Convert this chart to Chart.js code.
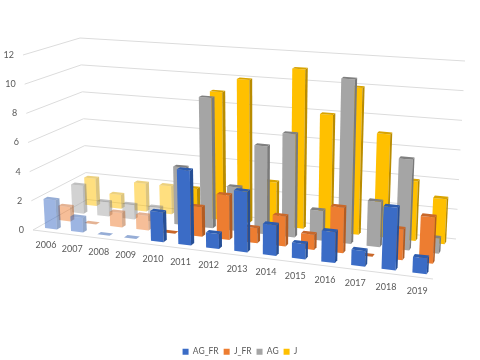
<!DOCTYPE html>
<html>
<head>
<meta charset="utf-8">
<style>
  html, body { margin: 0; padding: 0; background: #fff; }
  canvas { display: block; }
</style>
<script src="https://cdn.jsdelivr.net/npm/chart.js@4/dist/chart.umd.min.js"></script>
</head>
<body>
<canvas id="chart" width="480" height="360"></canvas>
<script>
const years = ["2006", "2007", "2008", "2009", "2010", "2011", "2012", "2013", "2014", "2015", "2016", "2017", "2018", "2019"];
const fadedYears = ["2006", "2007", "2008", "2009"];
const AG_FR = [2, 1, 0, 0, 2, 5, 1, 4, 2, 1, 2, 1, 4, 1];
const J_FR = [1, 0, 1, 1, 0, 2, 3, 1, 2, 1, 3, 0, 2, 3];
const AG = [2, 1, 1, 1, 4, 9, 3, 6, 7, 2, 11, 3, 6, 1];
const J = [2, 1, 2, 2, 2, 9, 10, 3, 11, 8, 10, 7, 4, 3];

const textColor = "#595959";
const gridColor = "#dcdcdc";
const labelFont = "9px Lato";

// Perspective box: floor corners (front-left, front-right, back-right, back-left),
// the height of the value axis at each corner and where the verticals converge
const floorQuad = [[33, 230], [433, 279], [456, 239], [87, 199.5]];
const cornerHeights = [175, 190, 178, 161.5];
const vanish = [258, 4150];
const perspectiveShare = 0.65; // full homography bunches the years too much
const barDepth = 0.07;

function homography(q) {
  const [p0, p1, p2, p3] = q;
  const dx1 = p1[0] - p2[0], dx2 = p3[0] - p2[0], sx = p0[0] - p1[0] + p2[0] - p3[0];
  const dy1 = p1[1] - p2[1], dy2 = p3[1] - p2[1], sy = p0[1] - p1[1] + p2[1] - p3[1];
  const det = dx1 * dy2 - dx2 * dy1;
  const g = (sx * dy2 - dx2 * sy) / det;
  const h = (dx1 * sy - sx * dy1) / det;
  const a = p1[0] - p0[0] + g * p1[0], b = p3[0] - p0[0] + h * p3[0];
  const d = p1[1] - p0[1] + g * p1[1], e = p3[1] - p0[1] + h * p3[1];
  return (u, w) => {
    const k = g * u + h * w + 1;
    return [(a * u + b * w + p0[0]) / k, (d * u + e * w + p0[1]) / k];
  };
}
const floorHomography = homography(floorQuad);

function bilerp(vals, u, w) {
  return (vals[0] * (1 - u) + vals[1] * u) * (1 - w) + (vals[3] * (1 - u) + vals[2] * u) * w;
}

function floorAt(u, w) {
  const p = floorHomography(u, w);
  const s = perspectiveShare;
  return [
    p[0] * s + bilerp(floorQuad.map((c) => c[0]), u, w) * (1 - s),
    p[1] * s + bilerp(floorQuad.map((c) => c[1]), u, w) * (1 - s),
  ];
}

// u along the years, w into the depth, v = share of the value axis
function project(u, w, v) {
  const f = floorAt(u, w);
  const rise = bilerp(cornerHeights, u, w) * v;
  return [f[0] - ((vanish[0] - f[0]) * rise) / (vanish[1] - f[1]), f[1] - rise];
}

function fillQuad(ctx, pts, color) {
  ctx.beginPath();
  pts.forEach((p, i) => (i ? ctx.lineTo(p[0], p[1]) : ctx.moveTo(p[0], p[1])));
  ctx.closePath();
  ctx.fillStyle = color;
  ctx.fill();
}

// Bars keep the positions the scales gave them, they are only projected at draw time
class Bar3DController extends Chart.BarController {
  draw() {
    const ctx = this.chart.ctx;
    const area = this.chart.chartArea;
    const ds = this.getDataset();
    const count = this.chart.data.datasets.length;
    const rowW = (this.index + 0.5) / count;
    const w0 = rowW - barDepth / 2, w1 = rowW + barDepth / 2;

    ctx.save();
    this._cachedMeta.data.forEach((bar, i) => {
      const u0 = (bar.x - bar.width / 2 - area.left) / area.width;
      const u1 = (bar.x + bar.width / 2 - area.left) / area.width;
      const v = (bar.base - bar.y) / area.height;
      ctx.globalAlpha = fadedYears.includes(years[i]) ? 0.5 : 1;
      if (v > 0) {
        fillQuad(ctx, [project(u0, w0, 0), project(u1, w0, 0), project(u1, w0, v), project(u0, w0, v)], ds.backgroundColor);
        fillQuad(ctx, [project(u1, w0, 0), project(u1, w1, 0), project(u1, w1, v), project(u1, w0, v)], ds.sideColor);
      }
      fillQuad(ctx, [project(u0, w0, v), project(u1, w0, v), project(u1, w1, v), project(u0, w1, v)], ds.topColor);
    });
    ctx.restore();
  }
}
Bar3DController.id = "bar3d";
Bar3DController.defaults = Chart.BarController.defaults;
Bar3DController.overrides = Chart.BarController.overrides;
Chart.register(Bar3DController);

// Walls, floor and axis labels, taken from the scales' ticks
const box3d = {
  id: "box3d",
  beforeDatasetsDraw(chart) {
    const ctx = chart.ctx;
    const yScale = chart.scales.y;
    const xScale = chart.scales.x;
    const area = chart.chartArea;
    ctx.save();
    ctx.lineWidth = 1;
    ctx.strokeStyle = gridColor;
    ctx.font = labelFont;
    ctx.fillStyle = textColor;

    ctx.textAlign = "right";
    ctx.textBaseline = "middle";
    yScale.ticks.forEach((tick) => {
      const v = (area.bottom - yScale.getPixelForValue(tick.value)) / area.height;
      const a = project(0, 0, v), b = project(0, 1, v), c = project(1, 1, v);
      ctx.beginPath();
      ctx.moveTo(a[0], a[1]);
      ctx.lineTo(b[0], b[1]);
      ctx.lineTo(c[0], c[1]);
      ctx.stroke();
      ctx.fillText(String(tick.value), a[0] - 9, a[1]);
    });

    const fl = project(0, 0, 0), fr = project(1, 0, 0);
    ctx.beginPath();
    ctx.moveTo(fl[0], fl[1]);
    ctx.lineTo(fr[0], fr[1]);
    ctx.stroke();

    ctx.textAlign = "center";
    xScale.ticks.forEach((tick, i) => {
      const u = (xScale.getPixelForTick(i) - area.left) / area.width;
      const p = project(u, 0, 0);
      ctx.fillText(tick.label, p[0], p[1] + 14);
    });
    ctx.restore();
  },
};

new Chart(document.getElementById("chart"), {
  type: "bar3d",
  data: {
    labels: years,
    datasets: [
      { label: "AG_FR", data: AG_FR, backgroundColor: "#3b6cc6", sideColor: "#264f96", topColor: "#2d5cae" },
      { label: "J_FR", data: J_FR, backgroundColor: "#ed7d31", sideColor: "#b25c22", topColor: "#c9682a" },
      { label: "AG", data: AG, backgroundColor: "#a5a5a5", sideColor: "#7a7a7a", topColor: "#808080" },
      { label: "J", data: J, backgroundColor: "#ffc000", sideColor: "#b98c00", topColor: "#d9a400" },
    ],
  },
  options: {
    responsive: false,
    animation: false,
    grouped: false,
    barPercentage: 0.46,
    categoryPercentage: 1,
    layout: { padding: { bottom: -6 } },
    scales: {
      x: { type: "category", display: false, offset: true, ticks: { autoSkip: false } },
      y: { type: "linear", display: false, min: 0, max: 12, ticks: { stepSize: 2 } },
    },
    plugins: {
      tooltip: { enabled: false },
      legend: {
        position: "bottom",
        labels: {
          color: textColor,
          font: { family: "Lato", size: 8.5 },
          boxWidth: 6,
          boxHeight: 6,
          padding: 5,
        },
      },
    },
  },
  plugins: [box3d],
});
</script>
</body>
</html>
